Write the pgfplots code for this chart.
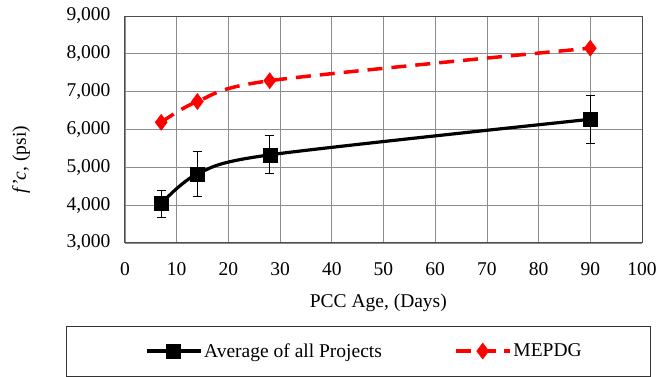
\documentclass[border=0pt]{standalone}
\usepackage{pgfplots}
\pgfplotsset{compat=1.18}
\usepackage{fontspec}
\setmainfont{Liberation Serif}
\begin{document}
\begin{tikzpicture}[font=\fontsize{19.5}{23}\selectfont]
\useasboundingbox (-125pt,-134pt) rectangle (532pt,243pt);
\begin{axis}[
  width=517pt, height=227pt, scale only axis,
  xmin=0, xmax=100, ymin=3000, ymax=9000,
  xtick={0,10,...,100}, ytick={3000,4000,...,9000},
  grid=major, major grid style={draw=black!45, line width=0.8pt},
  axis line style={draw=black!70, line width=1pt},
  major tick length=0pt,
  /pgf/number format/.cd, 1000 sep={,}, assume math mode=true,
  /pgfplots/.cd,
  xticklabel style={yshift=-16pt},
  yticklabel style={xshift=-11pt},
  xlabel={PCC Age, (Days)},
  xlabel style={at={(axis description cs:0.49,-0.264)}, anchor=center},
  ylabel={\textit{f'c}, (psi)},
  ylabel style={at={(axis description cs:-0.201,0.366)}, anchor=center, rotate=0},
  clip=false,
  legend columns=2,
  legend style={draw=none, fill=none, at={(axis description cs:0.463,-0.476)}, anchor=center,
    /tikz/every even column/.append style={column sep=70pt},
    /tikz/every odd column/.append style={column sep=0pt},
    font=\fontsize{19.5}{23}\selectfont},
  legend cell align=left,
  legend image code/.code={\draw[mark repeat=2,mark phase=2,#1] plot coordinates {(0pt,0pt) (27pt,0pt) (54pt,0pt)};},
]
\addplot[black, line width=3.2pt, smooth, mark=square*, mark size=7pt, mark options={solid, line width=0.5pt},
  error bars/.cd, y dir=both, y explicit, error bar style={line width=1pt, black}, error mark options={rotate=90, mark size=4.5pt, line width=1pt}]
  table[x=x, y=y, y error plus=ep, y error minus=em] {
x y ep em
7 4040 360 370
14 4825 585 595
28 5330 510 500
90 6270 630 630
};
\addlegendentry{Average of all Projects}
\addplot[red, line width=3.5pt, smooth, dash pattern=on 15pt off 9pt, mark=diamond*, mark size=8pt, mark options={solid, line width=0.5pt}]
  table[x=x, y=y] {
x y
7 6190
14 6740
28 7290
90 8150
};
\addlegendentry{MEPDG}
\draw[black!80, line width=1pt] (axis description cs:-0.114,-0.366) rectangle (axis description cs:1.017,-0.586);
\end{axis}
\end{tikzpicture}
\end{document}
